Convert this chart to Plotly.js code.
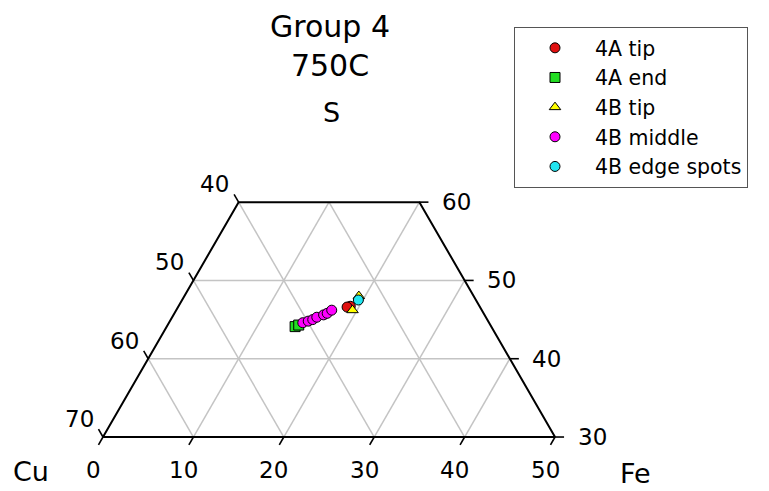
<!DOCTYPE html>
<html>
<head>
<meta charset="utf-8">
<script src="https://cdn.plot.ly/plotly-3.0.1.min.js"></script>
<style>
  html, body { margin: 0; padding: 0; background: #fff; }
  #chart { width: 769px; height: 491px; }
</style>
</head>
<body>
<div id="chart"></div>
<script>
// Truncated S–Cu–Fe ternary diagram (at%), S between 30 and 60, Cu >= 20.
const seriesNames = ['4A tip', '4A end', '4B tip', '4B middle', '4B edge spots'];

// Compositions per series: S, Fe and Cu (at%)
const tip4A_S  = [46.7, 46.6];
const tip4A_Fe = [19.0, 18.7];
const tip4A_Cu = [34.3, 34.7];

const end4A_S  = [44.1, 44.3];
const end4A_Fe = [14.2, 14.5];
const end4A_Cu = [41.7, 41.2];

const tip4B_S  = [46.2, 48.0];
const tip4B_Fe = [19.5, 19.3];
const tip4B_Cu = [34.3, 32.7];

const mid4B_S  = [44.6, 44.8, 45.0, 45.3, 45.6, 45.8, 46.2];
const mid4B_Fe = [14.8, 15.3, 15.7, 16.0, 16.6, 16.9, 17.2];
const mid4B_Cu = [40.6, 39.9, 39.3, 38.7, 37.8, 37.3, 36.6];

const edge4B_S  = [47.5];
const edge4B_Fe = [19.5];
const edge4B_Cu = [33.0];

// Axis ticks of the truncated diagram
const feTicks = [0, 10, 20, 30, 40, 50];   // bottom edge
const cuTicks = [40, 50, 60, 70];          // left edge
const sTicks  = [30, 40, 50, 60];          // right edge
const feGrid = [10, 20, 30, 40];
const sGrid  = [40, 50];
const cuGrid = [30, 40, 50, 60];

const S_MIN = 30, S_MAX = 60, CU_MIN = 20;
const R3 = Math.sqrt(3) / 2;

// ternary (S, Fe, Cu) -> plane; Cu corner left, Fe corner right, S corner top
function toX(s, fe, cu) { const t = s + fe + cu; return (100 * fe / t) + (100 * s / t) / 2; }
function toY(s, fe, cu) { const t = s + fe + cu; return (100 * s / t) * R3; }
function pt(s, fe) { return [fe + s / 2, s * R3]; }

function pushSeg(xs, ys, a, b) {
  xs.push(a[0], b[0], null); ys.push(a[1], b[1], null);
}

// grid lines inside the truncated region
const gx = [], gy = [];
feGrid.forEach(f => pushSeg(gx, gy, pt(S_MIN, f), pt(Math.min(S_MAX, 100 - CU_MIN - f), f)));
sGrid.forEach(s => pushSeg(gx, gy, pt(s, 0), pt(s, 100 - CU_MIN - s)));
cuGrid.forEach(c => {
  const sEnd = Math.min(S_MAX, 100 - c);
  pushSeg(gx, gy, pt(S_MIN, 100 - c - S_MIN), pt(sEnd, 100 - c - sEnd));
});

// outline
const outline = [pt(S_MIN, 0), pt(S_MAX, 0), pt(S_MAX, 100 - CU_MIN - S_MAX), pt(S_MIN, 100 - CU_MIN - S_MIN), pt(S_MIN, 0)];

// tick marks
const TL = 1.0;
const tx = [], ty = [];
feTicks.forEach(f => pushSeg(tx, ty, pt(S_MIN, f), pt(S_MIN - TL, f)));
sTicks.forEach(s => pushSeg(tx, ty, pt(s, 100 - CU_MIN - s), pt(s, 100 - CU_MIN - s + TL)));
cuTicks.forEach(c => pushSeg(tx, ty, pt(100 - c, 0), pt(100 - c + TL, -TL)));

const traces = [
  { x: gx, y: gy, mode: 'lines', line: { color: '#c4c4c4', width: 1.5 }, hoverinfo: 'skip', showlegend: false },
  { x: outline.map(p => p[0]), y: outline.map(p => p[1]), mode: 'lines', line: { color: '#000', width: 2 }, hoverinfo: 'skip', showlegend: false },
  { x: tx, y: ty, mode: 'lines', line: { color: '#000', width: 1.6 }, hoverinfo: 'skip', showlegend: false }
];

const series = [
  [tip4A_S, tip4A_Fe, tip4A_Cu, 'circle', '#e01010'],
  [end4A_S, end4A_Fe, end4A_Cu, 'square', '#22dd22'],
  [tip4B_S, tip4B_Fe, tip4B_Cu, 'triangle-up', '#ffff00'],
  [mid4B_S, mid4B_Fe, mid4B_Cu, 'circle', '#ff00ff'],
  [edge4B_S, edge4B_Fe, edge4B_Cu, 'circle', '#22e5f0']
];
series.forEach((sr, i) => {
  const [S, Fe, Cu, sym, col] = sr;
  traces.push({
    name: seriesNames[i],
    x: S.map((s, k) => toX(s, Fe[k], Cu[k])),
    y: S.map((s, k) => toY(s, Fe[k], Cu[k])),
    mode: 'markers',
    marker: { symbol: sym, size: 10, color: col, line: { color: '#000', width: 1 } },
    showlegend: true
  });
});

const FONT = 'DejaVu Sans, Liberation Sans, Arial, sans-serif';
const ann = [];
feTicks.forEach(f => { const p = pt(S_MIN, f); ann.push({ x: p[0], y: p[1], text: String(f), xshift: -10, yshift: -33 }); });
cuTicks.forEach(c => { const p = pt(100 - c, 0); ann.push({ x: p[0], y: p[1], text: String(c), xshift: -24, yshift: 18 }); });
sTicks.forEach(s => { const p = pt(s, 100 - CU_MIN - s); ann.push({ x: p[0], y: p[1], text: String(s), xshift: 37, yshift: 0 }); });
ann.forEach(a => { a.xref = 'x'; a.yref = 'y'; a.showarrow = false; a.font = { family: FONT, size: 23, color: '#000' }; });

const pCu = pt(S_MIN, 0), pFe = pt(S_MIN, 100 - CU_MIN - S_MIN), pS = pt(100 - CU_MIN, 0);
[['Cu', pCu, -72, -34], ['Fe', pFe, 80, -36], ['S', pS, 2, -67]].forEach(([t, p, dx, dy]) => {
  ann.push({ x: p[0], y: p[1], xref: 'x', yref: 'y', text: t, showarrow: false, xshift: dx, yshift: dy,
             font: { family: FONT, size: 27, color: '#000' } });
});

const layout = {
  width: 769, height: 491,
  margin: { l: 0, r: 0, t: 0, b: 0 },
  paper_bgcolor: '#fff', plot_bgcolor: '#fff',
  font: { family: FONT, color: '#000' },
  title: { text: 'Group 4<br>750C', font: { family: FONT, size: 30, color: '#000' },
           x: 330 / 769, xanchor: 'center', xref: 'paper', yref: 'container', y: 0.925, yanchor: 'top' },
  xaxis: { range: [3.606, 88.67], visible: false, fixedrange: true },
  yaxis: { range: [20.01, 74.32], visible: false, fixedrange: true },
  showlegend: true,
  legend: {
    x: 514 / 769, y: 1 - 27 / 491, xanchor: 'left', yanchor: 'top', xref: 'paper', yref: 'paper',
    bgcolor: '#fff', bordercolor: '#555', borderwidth: 1,
    font: { family: FONT, size: 20.5, color: '#000' },
    itemwidth: 70, tracegroupgap: 0
  },
  annotations: ann
};

Plotly.newPlot('chart', traces, layout, { staticPlot: true, displayModeBar: false });
</script>
</body>
</html>
